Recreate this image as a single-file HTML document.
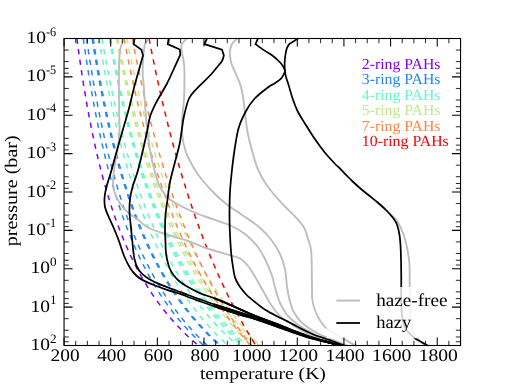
<!DOCTYPE html><html><head><meta charset="utf-8"><style>html,body{margin:0;padding:0;background:#fff}body{width:512px;height:384px;overflow:hidden;position:relative}svg{will-change:transform}text{text-rendering:geometricPrecision}</style></head><body><svg width="512" height="384" viewBox="0 0 512 384" style="position:absolute;left:0;top:0">
<rect width="512" height="384" fill="#fff"/>
<defs><clipPath id="cp"><rect x="64.05" y="38.5" width="396.5" height="307.0"/></clipPath><clipPath id="cp2"><rect x="214" y="280" width="136" height="65"/></clipPath></defs>
<g clip-path="url(#cp)" fill="none" stroke-linejoin="miter" stroke-linecap="butt">
<path d="M76.91,38.50 L77.42,42.44 L77.95,46.39 L78.48,50.33 L79.03,54.27 L79.58,58.22 L80.14,62.16 L80.72,66.10 L81.30,70.04 L81.90,73.99 L82.51,77.93 L83.13,81.87 L83.76,85.82 L84.40,89.76 L85.06,93.70 L85.72,97.65 L86.41,101.59 L87.10,105.53 L87.81,109.47 L88.54,113.42 L89.28,117.36 L90.03,121.30 L90.81,125.25 L91.59,129.19 L92.40,133.13 L93.22,137.08 L94.06,141.02 L94.92,144.96 L95.80,148.91 L96.70,152.85 L97.63,156.79 L98.57,160.73 L99.53,164.68 L100.52,168.62 L101.54,172.56 L102.57,176.51 L103.64,180.45 L104.73,184.39 L105.85,188.34 L107.00,192.28 L108.18,196.22 L109.39,200.16 L110.63,204.11 L111.90,208.05 L113.22,211.99 L114.57,215.94 L115.95,219.88 L117.38,223.82 L118.85,227.77 L120.37,231.71 L121.93,235.65 L123.54,239.59 L125.20,243.54 L126.91,247.48 L128.67,251.42 L130.50,255.37 L132.39,259.31 L134.34,263.25 L136.35,267.20 L138.44,271.14 L140.60,275.08 L142.85,279.03 L145.17,282.97 L147.59,286.91 L150.09,290.85 L152.70,294.80 L155.41,298.74 L158.23,302.68 L161.17,306.63 L164.23,310.57 L167.43,314.51 L170.77,318.46 L174.26,322.40 L177.91,326.34 L181.74,330.28 L185.76,334.23 L189.98,338.17 L194.42,342.11 L199.09,346.06 L204.01,350.00" stroke="#8000ff" stroke-width="1.5" stroke-dasharray="5.33 5.33" stroke-dashoffset="0"/>
<path d="M83.30,38.50 L83.85,42.44 L84.41,46.39 L84.98,50.33 L85.56,54.27 L86.15,58.22 L86.75,62.16 L87.36,66.10 L87.98,70.04 L88.61,73.99 L89.26,77.93 L89.91,81.87 L90.58,85.82 L91.26,89.76 L91.95,93.70 L92.66,97.65 L93.38,101.59 L94.11,105.53 L94.86,109.47 L95.62,113.42 L96.40,117.36 L97.19,121.30 L98.00,125.25 L98.83,129.19 L99.67,133.13 L100.53,137.08 L101.41,141.02 L102.31,144.96 L103.23,148.91 L104.17,152.85 L105.13,156.79 L106.11,160.73 L107.11,164.68 L108.13,168.62 L109.18,172.56 L110.25,176.51 L111.35,180.45 L112.48,184.39 L113.63,188.34 L114.81,192.28 L116.02,196.22 L117.26,200.16 L118.54,204.11 L119.84,208.05 L121.18,211.99 L122.56,215.94 L123.97,219.88 L125.42,223.82 L126.91,227.77 L128.44,231.71 L130.02,235.65 L131.64,239.59 L133.31,243.54 L135.03,247.48 L136.80,251.42 L138.62,255.37 L140.51,259.31 L142.45,263.25 L144.45,267.20 L146.52,271.14 L148.66,275.08 L150.87,279.03 L153.15,282.97 L155.52,286.91 L157.96,290.85 L160.50,294.80 L163.13,298.74 L165.86,302.68 L168.70,306.63 L171.64,310.57 L174.70,314.51 L177.89,318.46 L181.20,322.40 L184.66,326.34 L188.27,330.28 L192.03,334.23 L195.97,338.17 L200.09,342.11 L204.40,346.06 L208.92,350.00" stroke="#2287f5" stroke-width="1.5" stroke-dasharray="5.33 5.33" stroke-dashoffset="0"/>
<path d="M86.57,38.50 L87.14,42.44 L87.72,46.39 L88.31,50.33 L88.91,54.27 L89.52,58.22 L90.13,62.16 L90.76,66.10 L91.40,70.04 L92.05,73.99 L92.72,77.93 L93.39,81.87 L94.08,85.82 L94.78,89.76 L95.49,93.70 L96.22,97.65 L96.96,101.59 L97.71,105.53 L98.48,109.47 L99.26,113.42 L100.06,117.36 L100.87,121.30 L101.70,125.25 L102.55,129.19 L103.42,133.13 L104.30,137.08 L105.20,141.02 L106.12,144.96 L107.06,148.91 L108.01,152.85 L108.99,156.79 L109.99,160.73 L111.02,164.68 L112.06,168.62 L113.13,172.56 L114.23,176.51 L115.35,180.45 L116.49,184.39 L117.67,188.34 L118.87,192.28 L120.10,196.22 L121.36,200.16 L122.65,204.11 L123.98,208.05 L125.34,211.99 L126.73,215.94 L128.16,219.88 L129.63,223.82 L131.14,227.77 L132.68,231.71 L134.28,235.65 L135.91,239.59 L137.60,243.54 L139.33,247.48 L141.11,251.42 L142.94,255.37 L144.84,259.31 L146.78,263.25 L148.79,267.20 L150.87,271.14 L153.01,275.08 L155.21,279.03 L157.50,282.97 L159.86,286.91 L162.30,290.85 L164.82,294.80 L167.44,298.74 L170.15,302.68 L172.96,306.63 L175.87,310.57 L178.90,314.51 L182.04,318.46 L185.31,322.40 L188.71,326.34 L192.26,330.28 L195.95,334.23 L199.80,338.17 L203.82,342.11 L208.03,346.06 L212.43,350.00" stroke="#2287f5" stroke-width="1.5" stroke-dasharray="5.33 5.33" stroke-dashoffset="0"/>
<path d="M92.18,38.50 L92.79,42.44 L93.41,46.39 L94.04,50.33 L94.69,54.27 L95.34,58.22 L96.00,62.16 L96.68,66.10 L97.37,70.04 L98.07,73.99 L98.78,77.93 L99.50,81.87 L100.24,85.82 L100.99,89.76 L101.76,93.70 L102.53,97.65 L103.33,101.59 L104.13,105.53 L104.96,109.47 L105.80,113.42 L106.65,117.36 L107.52,121.30 L108.41,125.25 L109.32,129.19 L110.24,133.13 L111.18,137.08 L112.15,141.02 L113.13,144.96 L114.13,148.91 L115.16,152.85 L116.20,156.79 L117.27,160.73 L118.36,164.68 L119.48,168.62 L120.62,172.56 L121.78,176.51 L122.98,180.45 L124.20,184.39 L125.45,188.34 L126.72,192.28 L128.03,196.22 L129.37,200.16 L130.75,204.11 L132.15,208.05 L133.60,211.99 L135.08,215.94 L136.59,219.88 L138.15,223.82 L139.75,227.77 L141.39,231.71 L143.07,235.65 L144.80,239.59 L146.58,243.54 L148.41,247.48 L150.30,251.42 L152.23,255.37 L154.23,259.31 L156.28,263.25 L158.40,267.20 L160.58,271.14 L162.83,275.08 L165.15,279.03 L167.55,282.97 L170.02,286.91 L172.58,290.85 L175.23,294.80 L177.97,298.74 L180.80,302.68 L183.74,306.63 L186.78,310.57 L189.94,314.51 L193.21,318.46 L196.61,322.40 L200.15,326.34 L203.83,330.28 L207.66,334.23 L211.65,338.17 L215.81,342.11 L220.15,346.06 L224.69,350.00" stroke="#2287f5" stroke-width="1.5" stroke-dasharray="5.33 5.33" stroke-dashoffset="0"/>
<path d="M93.18,38.50 L93.79,42.44 L94.41,46.39 L95.04,50.33 L95.69,54.27 L96.34,58.22 L97.00,62.16 L97.68,66.10 L98.37,70.04 L99.07,73.99 L99.78,77.93 L100.50,81.87 L101.24,85.82 L101.99,89.76 L102.76,93.70 L103.53,97.65 L104.33,101.59 L105.13,105.53 L105.96,109.47 L106.80,113.42 L107.65,117.36 L108.52,121.30 L109.41,125.25 L110.32,129.19 L111.24,133.13 L112.18,137.08 L113.15,141.02 L114.13,144.96 L115.13,148.91 L116.16,152.85 L117.20,156.79 L118.27,160.73 L119.36,164.68 L120.48,168.62 L121.62,172.56 L122.78,176.51 L123.98,180.45 L125.20,184.39 L126.45,188.34 L127.72,192.28 L129.03,196.22 L130.37,200.16 L131.75,204.11 L133.15,208.05 L134.60,211.99 L136.08,215.94 L137.59,219.88 L139.15,223.82 L140.75,227.77 L142.39,231.71 L144.07,235.65 L145.80,239.59 L147.58,243.54 L149.41,247.48 L151.30,251.42 L153.23,255.37 L155.23,259.31 L157.28,263.25 L159.40,267.20 L161.58,271.14 L163.83,275.08 L166.15,279.03 L168.55,282.97 L171.02,286.91 L173.58,290.85 L176.23,294.80 L178.97,298.74 L181.80,302.68 L184.74,306.63 L187.78,310.57 L190.94,314.51 L194.21,318.46 L197.61,322.40 L201.15,326.34 L204.83,330.28 L208.66,334.23 L212.65,338.17 L216.81,342.11 L221.15,346.06 L225.69,350.00" stroke="#2287f5" stroke-width="1.5" stroke-dasharray="5.33 5.33" stroke-dashoffset="0"/>
<path d="M99.02,38.50 L99.66,42.44 L100.32,46.39 L100.99,50.33 L101.66,54.27 L102.35,58.22 L103.05,62.16 L103.76,66.10 L104.49,70.04 L105.22,73.99 L105.97,77.93 L106.73,81.87 L107.50,85.82 L108.29,89.76 L109.09,93.70 L109.91,97.65 L110.74,101.59 L111.59,105.53 L112.45,109.47 L113.32,113.42 L114.22,117.36 L115.13,121.30 L116.05,125.25 L117.00,129.19 L117.96,133.13 L118.95,137.08 L119.95,141.02 L120.97,144.96 L122.01,148.91 L123.08,152.85 L124.16,156.79 L125.27,160.73 L126.40,164.68 L127.56,168.62 L128.74,172.56 L129.94,176.51 L131.18,180.45 L132.44,184.39 L133.73,188.34 L135.04,192.28 L136.39,196.22 L137.77,200.16 L139.18,204.11 L140.63,208.05 L142.11,211.99 L143.62,215.94 L145.17,219.88 L146.77,223.82 L148.40,227.77 L150.07,231.71 L151.79,235.65 L153.55,239.59 L155.36,243.54 L157.22,247.48 L159.13,251.42 L161.09,255.37 L163.11,259.31 L165.18,263.25 L167.31,267.20 L169.51,271.14 L171.77,275.08 L174.11,279.03 L176.51,282.97 L178.98,286.91 L181.54,290.85 L184.18,294.80 L186.90,298.74 L189.72,302.68 L192.63,306.63 L195.64,310.57 L198.75,314.51 L201.98,318.46 L205.32,322.40 L208.79,326.34 L212.39,330.28 L216.13,334.23 L220.01,338.17 L224.04,342.11 L228.24,346.06 L232.62,350.00" stroke="#62fac4" stroke-width="1.5" stroke-dasharray="5.33 5.33" stroke-dashoffset="0"/>
<path d="M101.93,38.50 L102.61,42.44 L103.29,46.39 L103.98,50.33 L104.69,54.27 L105.41,58.22 L106.14,62.16 L106.88,66.10 L107.64,70.04 L108.41,73.99 L109.19,77.93 L109.98,81.87 L110.79,85.82 L111.61,89.76 L112.45,93.70 L113.30,97.65 L114.17,101.59 L115.06,105.53 L115.96,109.47 L116.87,113.42 L117.81,117.36 L118.76,121.30 L119.73,125.25 L120.72,129.19 L121.73,133.13 L122.76,137.08 L123.81,141.02 L124.88,144.96 L125.97,148.91 L127.08,152.85 L128.22,156.79 L129.38,160.73 L130.57,164.68 L131.78,168.62 L133.02,172.56 L134.28,176.51 L135.58,180.45 L136.90,184.39 L138.25,188.34 L139.63,192.28 L141.05,196.22 L142.50,200.16 L143.98,204.11 L145.50,208.05 L147.05,211.99 L148.65,215.94 L150.28,219.88 L151.95,223.82 L153.67,227.77 L155.43,231.71 L157.24,235.65 L159.10,239.59 L161.00,243.54 L162.96,247.48 L164.97,251.42 L167.04,255.37 L169.17,259.31 L171.36,263.25 L173.61,267.20 L175.93,271.14 L178.33,275.08 L180.79,279.03 L183.33,282.97 L185.95,286.91 L188.66,290.85 L191.45,294.80 L194.34,298.74 L197.32,302.68 L200.40,306.63 L203.60,310.57 L206.91,314.51 L210.33,318.46 L213.89,322.40 L217.58,326.34 L221.40,330.28 L225.38,334.23 L229.52,338.17 L233.82,342.11 L238.30,346.06 L242.98,350.00" stroke="#62fac4" stroke-width="1.5" stroke-dasharray="5.33 5.33" stroke-dashoffset="0"/>
<path d="M109.16,38.50 L109.88,42.44 L110.60,46.39 L111.34,50.33 L112.08,54.27 L112.84,58.22 L113.60,62.16 L114.38,66.10 L115.17,70.04 L115.98,73.99 L116.79,77.93 L117.62,81.87 L118.46,85.82 L119.32,89.76 L120.18,93.70 L121.07,97.65 L121.96,101.59 L122.88,105.53 L123.80,109.47 L124.75,113.42 L125.71,117.36 L126.68,121.30 L127.68,125.25 L128.69,129.19 L129.72,133.13 L130.76,137.08 L131.83,141.02 L132.92,144.96 L134.02,148.91 L135.15,152.85 L136.30,156.79 L137.48,160.73 L138.67,164.68 L139.89,168.62 L141.14,172.56 L142.41,176.51 L143.70,180.45 L145.03,184.39 L146.38,188.34 L147.76,192.28 L149.17,196.22 L150.61,200.16 L152.08,204.11 L153.59,208.05 L155.13,211.99 L156.70,215.94 L158.32,219.88 L159.97,223.82 L161.66,227.77 L163.39,231.71 L165.16,235.65 L166.98,239.59 L168.85,243.54 L170.76,247.48 L172.72,251.42 L174.73,255.37 L176.80,259.31 L178.92,263.25 L181.10,267.20 L183.34,271.14 L185.65,275.08 L188.02,279.03 L190.45,282.97 L192.96,286.91 L195.55,290.85 L198.21,294.80 L200.96,298.74 L203.79,302.68 L206.71,306.63 L209.73,310.57 L212.84,314.51 L216.06,318.46 L219.39,322.40 L222.84,326.34 L226.40,330.28 L230.09,334.23 L233.92,338.17 L237.89,342.11 L242.01,346.06 L246.29,350.00" stroke="#62fac4" stroke-width="1.3" stroke-dasharray="5.33 5.33" stroke-dashoffset="0"/>
<path d="M109.86,38.50 L110.57,42.44 L111.29,46.39 L112.02,50.33 L112.76,54.27 L113.51,58.22 L114.28,62.16 L115.05,66.10 L115.84,70.04 L116.65,73.99 L117.46,77.93 L118.29,81.87 L119.14,85.82 L119.99,89.76 L120.87,93.70 L121.75,97.65 L122.66,101.59 L123.57,105.53 L124.51,109.47 L125.46,113.42 L126.43,117.36 L127.42,121.30 L128.42,125.25 L129.44,129.19 L130.48,133.13 L131.54,137.08 L132.63,141.02 L133.73,144.96 L134.85,148.91 L136.00,152.85 L137.17,156.79 L138.36,160.73 L139.57,164.68 L140.81,168.62 L142.08,172.56 L143.37,176.51 L144.69,180.45 L146.03,184.39 L147.41,188.34 L148.81,192.28 L150.25,196.22 L151.72,200.16 L153.22,204.11 L154.75,208.05 L156.32,211.99 L157.93,215.94 L159.57,219.88 L161.26,223.82 L162.98,227.77 L164.74,231.71 L166.55,235.65 L168.41,239.59 L170.31,243.54 L172.25,247.48 L174.25,251.42 L176.31,255.37 L178.41,259.31 L180.57,263.25 L182.79,267.20 L185.08,271.14 L187.42,275.08 L189.84,279.03 L192.32,282.97 L194.88,286.91 L197.51,290.85 L200.22,294.80 L203.01,298.74 L205.89,302.68 L208.86,306.63 L211.93,310.57 L215.10,314.51 L218.37,318.46 L221.75,322.40 L225.25,326.34 L228.87,330.28 L232.61,334.23 L236.50,338.17 L240.52,342.11 L244.70,346.06 L249.04,350.00" stroke="#62fac4" stroke-width="1.3" stroke-dasharray="5.33 5.33" stroke-dashoffset="0"/>
<path d="M110.56,38.50 L111.26,42.44 L111.97,46.39 L112.70,50.33 L113.44,54.27 L114.19,58.22 L114.95,62.16 L115.72,66.10 L116.51,70.04 L117.32,73.99 L118.13,77.93 L118.96,81.87 L119.81,85.82 L120.67,89.76 L121.55,93.70 L122.44,97.65 L123.35,101.59 L124.27,105.53 L125.22,109.47 L126.18,113.42 L127.15,117.36 L128.15,121.30 L129.16,125.25 L130.20,129.19 L131.25,133.13 L132.33,137.08 L133.42,141.02 L134.54,144.96 L135.68,148.91 L136.84,152.85 L138.03,156.79 L139.24,160.73 L140.47,164.68 L141.73,168.62 L143.02,172.56 L144.33,176.51 L145.67,180.45 L147.04,184.39 L148.44,188.34 L149.87,192.28 L151.33,196.22 L152.83,200.16 L154.36,204.11 L155.92,208.05 L157.52,211.99 L159.16,215.94 L160.83,219.88 L162.54,223.82 L164.30,227.77 L166.10,231.71 L167.94,235.65 L169.83,239.59 L171.77,243.54 L173.75,247.48 L175.79,251.42 L177.88,255.37 L180.02,259.31 L182.23,263.25 L184.49,267.20 L186.81,271.14 L189.20,275.08 L191.66,279.03 L194.19,282.97 L196.79,286.91 L199.46,290.85 L202.22,294.80 L205.06,298.74 L207.99,302.68 L211.01,306.63 L214.13,310.57 L217.35,314.51 L220.67,318.46 L224.11,322.40 L227.66,326.34 L231.33,330.28 L235.13,334.23 L239.07,338.17 L243.16,342.11 L247.39,346.06 L251.79,350.00" stroke="#62fac4" stroke-width="1.3" stroke-dasharray="5.33 5.33" stroke-dashoffset="0"/>
<path d="M116.38,38.50 L117.12,42.44 L117.87,46.39 L118.63,50.33 L119.41,54.27 L120.19,58.22 L120.99,62.16 L121.80,66.10 L122.62,70.04 L123.45,73.99 L124.30,77.93 L125.16,81.87 L126.04,85.82 L126.93,89.76 L127.83,93.70 L128.75,97.65 L129.69,101.59 L130.64,105.53 L131.61,109.47 L132.59,113.42 L133.59,117.36 L134.61,121.30 L135.65,125.25 L136.71,129.19 L137.78,133.13 L138.88,137.08 L139.99,141.02 L141.13,144.96 L142.28,148.91 L143.46,152.85 L144.66,156.79 L145.89,160.73 L147.14,164.68 L148.41,168.62 L149.71,172.56 L151.03,176.51 L152.38,180.45 L153.76,184.39 L155.16,188.34 L156.60,192.28 L158.07,196.22 L159.56,200.16 L161.09,204.11 L162.66,208.05 L164.26,211.99 L165.89,215.94 L167.56,219.88 L169.27,223.82 L171.01,227.77 L172.80,231.71 L174.63,235.65 L176.51,239.59 L178.43,243.54 L180.39,247.48 L182.41,251.42 L184.47,255.37 L186.59,259.31 L188.76,263.25 L190.99,267.20 L193.28,271.14 L195.63,275.08 L198.04,279.03 L200.52,282.97 L203.07,286.91 L205.69,290.85 L208.38,294.80 L211.15,298.74 L214.01,302.68 L216.95,306.63 L219.98,310.57 L223.10,314.51 L226.32,318.46 L229.65,322.40 L233.08,326.34 L236.62,330.28 L240.29,334.23 L244.07,338.17 L247.99,342.11 L252.05,346.06 L256.25,350.00" stroke="#c3e98b" stroke-width="1.35" stroke-dasharray="5.33 5.33" stroke-dashoffset="0"/>
<path d="M117.17,38.50 L117.92,42.44 L118.68,46.39 L119.45,50.33 L120.24,54.27 L121.03,58.22 L121.84,62.16 L122.66,66.10 L123.50,70.04 L124.34,73.99 L125.20,77.93 L126.08,81.87 L126.97,85.82 L127.87,89.76 L128.79,93.70 L129.73,97.65 L130.68,101.59 L131.64,105.53 L132.63,109.47 L133.63,113.42 L134.65,117.36 L135.68,121.30 L136.74,125.25 L137.81,129.19 L138.90,133.13 L140.02,137.08 L141.15,141.02 L142.31,144.96 L143.48,148.91 L144.68,152.85 L145.91,156.79 L147.15,160.73 L148.42,164.68 L149.72,168.62 L151.04,172.56 L152.39,176.51 L153.77,180.45 L155.17,184.39 L156.60,188.34 L158.07,192.28 L159.56,196.22 L161.09,200.16 L162.65,204.11 L164.24,208.05 L165.87,211.99 L167.54,215.94 L169.25,219.88 L170.99,223.82 L172.77,227.77 L174.60,231.71 L176.47,235.65 L178.39,239.59 L180.35,243.54 L182.36,247.48 L184.42,251.42 L186.53,255.37 L188.70,259.31 L190.92,263.25 L193.20,267.20 L195.55,271.14 L197.95,275.08 L200.43,279.03 L202.97,282.97 L205.58,286.91 L208.27,290.85 L211.03,294.80 L213.88,298.74 L216.81,302.68 L219.83,306.63 L222.94,310.57 L226.15,314.51 L229.47,318.46 L232.89,322.40 L236.42,326.34 L240.07,330.28 L243.84,334.23 L247.74,338.17 L251.78,342.11 L255.97,346.06 L260.31,350.00" stroke="#c3e98b" stroke-width="1.35" stroke-dasharray="5.33 5.33" stroke-dashoffset="0"/>
<path d="M117.97,38.50 L118.73,42.44 L119.50,46.39 L120.28,50.33 L121.08,54.27 L121.89,58.22 L122.71,62.16 L123.54,66.10 L124.39,70.04 L125.25,73.99 L126.12,77.93 L127.01,81.87 L127.91,85.82 L128.83,89.76 L129.77,93.70 L130.72,97.65 L131.68,101.59 L132.67,105.53 L133.67,109.47 L134.68,113.42 L135.72,117.36 L136.77,121.30 L137.85,125.25 L138.94,129.19 L140.05,133.13 L141.18,137.08 L142.34,141.02 L143.51,144.96 L144.71,148.91 L145.93,152.85 L147.18,156.79 L148.45,160.73 L149.74,164.68 L151.06,168.62 L152.41,172.56 L153.78,176.51 L155.19,180.45 L156.62,184.39 L158.08,188.34 L159.57,192.28 L161.10,196.22 L162.66,200.16 L164.25,204.11 L165.88,208.05 L167.54,211.99 L169.25,215.94 L170.99,219.88 L172.77,223.82 L174.59,227.77 L176.46,231.71 L178.37,235.65 L180.33,239.59 L182.34,243.54 L184.40,247.48 L186.51,251.42 L188.67,255.37 L190.89,259.31 L193.17,263.25 L195.50,267.20 L197.91,271.14 L200.37,275.08 L202.91,279.03 L205.52,282.97 L208.20,286.91 L210.96,290.85 L213.80,294.80 L216.72,298.74 L219.74,302.68 L222.84,306.63 L226.05,310.57 L229.35,314.51 L232.76,318.46 L236.28,322.40 L239.92,326.34 L243.69,330.28 L247.58,334.23 L251.61,338.17 L255.78,342.11 L260.11,346.06 L264.59,350.00" stroke="#c3e98b" stroke-width="1.35" stroke-dasharray="5.33 5.33" stroke-dashoffset="0"/>
<path d="M126.75,38.50 L127.53,42.44 L128.31,46.39 L129.11,50.33 L129.92,54.27 L130.74,58.22 L131.57,62.16 L132.42,66.10 L133.28,70.04 L134.15,73.99 L135.03,77.93 L135.93,81.87 L136.84,85.82 L137.77,89.76 L138.71,93.70 L139.66,97.65 L140.63,101.59 L141.62,105.53 L142.62,109.47 L143.64,113.42 L144.67,117.36 L145.72,121.30 L146.79,125.25 L147.88,129.19 L148.98,133.13 L150.11,137.08 L151.25,141.02 L152.42,144.96 L153.60,148.91 L154.81,152.85 L156.03,156.79 L157.28,160.73 L158.56,164.68 L159.85,168.62 L161.17,172.56 L162.51,176.51 L163.88,180.45 L165.28,184.39 L166.70,188.34 L168.15,192.28 L169.63,196.22 L171.14,200.16 L172.68,204.11 L174.24,208.05 L175.85,211.99 L177.48,215.94 L179.15,219.88 L180.85,223.82 L182.59,227.77 L184.37,231.71 L186.19,235.65 L188.04,239.59 L189.94,243.54 L191.88,247.48 L193.86,251.42 L195.89,255.37 L197.97,259.31 L200.10,263.25 L202.28,267.20 L204.51,271.14 L206.79,275.08 L209.13,279.03 L211.53,282.97 L213.99,286.91 L216.51,290.85 L219.10,294.80 L221.76,298.74 L224.49,302.68 L227.29,306.63 L230.17,310.57 L233.13,314.51 L236.17,318.46 L239.30,322.40 L242.53,326.34 L245.84,330.28 L249.26,334.23 L252.78,338.17 L256.41,342.11 L260.15,346.06 L264.01,350.00" stroke="#c3e98b" stroke-width="1.5" stroke-dasharray="5.33 5.33" stroke-dashoffset="0"/>
<path d="M124.02,38.50 L124.77,42.44 L125.53,46.39 L126.30,50.33 L127.08,54.27 L127.87,58.22 L128.67,62.16 L129.48,66.10 L130.31,70.04 L131.15,73.99 L132.00,77.93 L132.87,81.87 L133.74,85.82 L134.63,89.76 L135.54,93.70 L136.46,97.65 L137.39,101.59 L138.34,105.53 L139.30,109.47 L140.28,113.42 L141.28,117.36 L142.29,121.30 L143.32,125.25 L144.36,129.19 L145.42,133.13 L146.50,137.08 L147.60,141.02 L148.72,144.96 L149.86,148.91 L151.01,152.85 L152.19,156.79 L153.39,160.73 L154.61,164.68 L155.85,168.62 L157.11,172.56 L158.40,176.51 L159.71,180.45 L161.05,184.39 L162.41,188.34 L163.80,192.28 L165.21,196.22 L166.66,200.16 L168.13,204.11 L169.63,208.05 L171.16,211.99 L172.72,215.94 L174.31,219.88 L175.94,223.82 L177.60,227.77 L179.30,231.71 L181.03,235.65 L182.80,239.59 L184.61,243.54 L186.46,247.48 L188.35,251.42 L190.28,255.37 L192.26,259.31 L194.28,263.25 L196.35,267.20 L198.47,271.14 L200.64,275.08 L202.86,279.03 L205.14,282.97 L207.47,286.91 L209.87,290.85 L212.32,294.80 L214.84,298.74 L217.42,302.68 L220.08,306.63 L222.80,310.57 L225.60,314.51 L228.47,318.46 L231.43,322.40 L234.47,326.34 L237.60,330.28 L240.82,334.23 L244.13,338.17 L247.55,342.11 L251.07,346.06 L254.70,350.00" stroke="#ff8545" stroke-width="1.5" stroke-dasharray="5.33 5.33" stroke-dashoffset="0"/>
<path d="M132.24,38.50 L132.99,42.44 L133.76,46.39 L134.53,50.33 L135.32,54.27 L136.12,58.22 L136.92,62.16 L137.74,66.10 L138.57,70.04 L139.41,73.99 L140.27,77.93 L141.13,81.87 L142.01,85.82 L142.90,89.76 L143.80,93.70 L144.72,97.65 L145.65,101.59 L146.59,105.53 L147.55,109.47 L148.52,113.42 L149.50,117.36 L150.50,121.30 L151.52,125.25 L152.55,129.19 L153.60,133.13 L154.66,137.08 L155.74,141.02 L156.84,144.96 L157.96,148.91 L159.09,152.85 L160.24,156.79 L161.42,160.73 L162.61,164.68 L163.82,168.62 L165.05,172.56 L166.30,176.51 L167.57,180.45 L168.87,184.39 L170.19,188.34 L171.53,192.28 L172.89,196.22 L174.28,200.16 L175.69,204.11 L177.13,208.05 L178.60,211.99 L180.09,215.94 L181.62,219.88 L183.17,223.82 L184.75,227.77 L186.36,231.71 L188.00,235.65 L189.67,239.59 L191.38,243.54 L193.12,247.48 L194.90,251.42 L196.71,255.37 L198.56,259.31 L200.45,263.25 L202.38,267.20 L204.35,271.14 L206.36,275.08 L208.42,279.03 L210.52,282.97 L212.67,286.91 L214.87,290.85 L217.11,294.80 L219.41,298.74 L221.76,302.68 L224.17,306.63 L226.64,310.57 L229.16,314.51 L231.75,318.46 L234.40,322.40 L237.12,326.34 L239.90,330.28 L242.76,334.23 L245.69,338.17 L248.70,342.11 L251.79,346.06 L254.96,350.00" stroke="#ff8545" stroke-width="1.5" stroke-dasharray="5.33 5.33" stroke-dashoffset="0"/>
<path d="M149.04,38.50 L149.80,42.44 L150.57,46.39 L151.35,50.33 L152.14,54.27 L152.94,58.22 L153.74,62.16 L154.56,66.10 L155.39,70.04 L156.22,73.99 L157.07,77.93 L157.93,81.87 L158.79,85.82 L159.67,89.76 L160.56,93.70 L161.46,97.65 L162.38,101.59 L163.30,105.53 L164.23,109.47 L165.18,113.42 L166.14,117.36 L167.12,121.30 L168.10,125.25 L169.10,129.19 L170.11,133.13 L171.14,137.08 L172.18,141.02 L173.23,144.96 L174.30,148.91 L175.38,152.85 L176.48,156.79 L177.59,160.73 L178.72,164.68 L179.87,168.62 L181.03,172.56 L182.21,176.51 L183.40,180.45 L184.62,184.39 L185.85,188.34 L187.10,192.28 L188.36,196.22 L189.65,200.16 L190.96,204.11 L192.28,208.05 L193.63,211.99 L195.00,215.94 L196.39,219.88 L197.80,223.82 L199.23,227.77 L200.69,231.71 L202.17,235.65 L203.67,239.59 L205.20,243.54 L206.75,247.48 L208.33,251.42 L209.94,255.37 L211.58,259.31 L213.24,263.25 L214.93,267.20 L216.65,271.14 L218.40,275.08 L220.18,279.03 L222.00,282.97 L223.84,286.91 L225.72,290.85 L227.64,294.80 L229.59,298.74 L231.57,302.68 L233.60,306.63 L235.66,310.57 L237.76,314.51 L239.91,318.46 L242.09,322.40 L244.32,326.34 L246.60,330.28 L248.92,334.23 L251.28,338.17 L253.70,342.11 L256.17,346.06 L258.69,350.00" stroke="#ff0000" stroke-width="1.5" stroke-dasharray="5.33 5.33" stroke-dashoffset="0"/>
<path d="M125.00,36.00 C124.79,36.42 124.58,36.00 123.75,38.50 C122.92,41.00 120.79,46.42 120.00,51.00 C119.21,55.58 119.17,58.08 119.00,66.00 C118.83,73.92 118.92,87.50 119.00,98.50 C119.08,109.50 119.58,124.75 119.50,132.00 C119.42,139.25 119.00,138.17 118.50,142.00 C118.00,145.83 117.25,150.25 116.50,155.00 C115.75,159.75 114.58,165.83 114.00,170.50 C113.42,175.17 112.88,179.25 113.00,183.00 C113.12,186.75 113.62,189.67 114.75,193.00 C115.88,196.33 117.46,199.67 119.75,203.00 C122.04,206.33 125.79,210.50 128.50,213.00 C131.21,215.50 132.62,215.50 136.00,218.00 C139.38,220.50 143.08,225.08 148.75,228.00 C154.42,230.92 163.46,233.33 170.00,235.50 C176.54,237.67 182.17,238.96 188.00,241.00 C193.83,243.04 198.00,245.38 205.00,247.75 C212.00,250.12 224.17,253.46 230.00,255.25 C235.83,257.04 236.92,256.62 240.00,258.50 C243.08,260.38 246.07,263.58 248.50,266.50 C250.93,269.42 252.64,272.75 254.60,276.00 C256.56,279.25 258.48,282.88 260.25,286.00 C262.02,289.12 263.58,291.83 265.25,294.75 C266.92,297.67 268.38,300.58 270.25,303.50 C272.12,306.42 274.42,309.75 276.50,312.25 C278.58,314.75 281.00,316.96 282.75,318.50 C284.50,320.04 285.21,320.33 287.00,321.50 C288.79,322.67 289.28,323.08 293.50,325.50 C297.72,327.92 306.05,333.17 312.30,336.00 C318.55,338.83 326.05,340.92 331.00,342.50 C335.95,344.08 340.17,345.00 342.00,345.50" stroke="#bebebe" stroke-width="1.9" stroke-linejoin="round"/>
<path d="M150.30,36.00 L144.90,44.10 C144.75,45.04 144.32,46.93 144.00,49.75 C143.68,52.57 143.21,56.79 143.00,61.00 C142.79,65.21 142.62,70.83 142.75,75.00 C142.88,79.17 143.29,80.00 143.75,86.00 C144.21,92.00 144.88,103.33 145.50,111.00 C146.12,118.67 146.54,124.33 147.50,132.00 C148.46,139.67 150.00,150.33 151.25,157.00 C152.50,163.67 153.54,167.00 155.00,172.00 C156.46,177.00 157.50,182.42 160.00,187.00 C162.50,191.58 165.33,195.75 170.00,199.50 C174.67,203.25 182.17,206.67 188.00,209.50 C193.83,212.33 198.00,213.88 205.00,216.50 C212.00,219.12 223.33,222.33 230.00,225.25 C236.67,228.17 240.42,230.46 245.00,234.00 C249.58,237.54 254.17,242.33 257.50,246.50 C260.83,250.67 262.57,254.08 265.00,259.00 C267.43,263.92 270.60,271.92 272.10,276.00 C273.60,280.08 273.17,280.38 274.00,283.50 C274.83,286.62 276.06,291.42 277.10,294.75 C278.14,298.08 278.89,300.58 280.25,303.50 C281.61,306.42 283.96,310.17 285.25,312.25 C286.54,314.33 286.31,314.26 288.00,316.00 C289.69,317.74 292.30,320.33 295.40,322.70 C298.50,325.07 302.23,327.70 306.60,330.20 C310.97,332.70 315.20,335.15 321.60,337.70 C328.00,340.25 341.10,344.20 345.00,345.50" stroke="#bebebe" stroke-width="1.9" stroke-linejoin="round"/>
<path d="M189.00,36.00 L181.75,43.80 C181.71,44.79 181.19,46.88 181.50,49.75 C181.81,52.62 183.10,57.29 183.60,61.00 C184.10,64.71 184.43,65.75 184.50,72.00 C184.57,78.25 184.42,90.33 184.00,98.50 C183.58,106.67 182.33,115.42 182.00,121.00 C181.67,126.58 181.71,128.08 182.00,132.00 C182.29,135.92 182.75,140.33 183.75,144.50 C184.75,148.67 185.62,152.00 188.00,157.00 C190.38,162.00 193.83,168.67 198.00,174.50 C202.17,180.33 208.29,187.08 213.00,192.00 C217.71,196.92 221.33,200.12 226.25,204.00 C231.17,207.88 236.88,211.29 242.50,215.25 C248.12,219.21 255.00,223.38 260.00,227.75 C265.00,232.12 269.17,237.12 272.50,241.50 C275.83,245.88 277.92,249.42 280.00,254.00 C282.08,258.58 283.83,263.58 285.00,269.00 C286.17,274.42 286.20,281.17 287.00,286.50 C287.80,291.83 288.72,296.83 289.80,301.00 C290.88,305.17 291.63,308.03 293.50,311.50 C295.37,314.97 297.87,318.68 301.00,321.80 C304.13,324.92 307.92,327.55 312.30,330.20 C316.68,332.85 321.52,335.15 327.30,337.70 C333.08,340.25 343.72,344.20 347.00,345.50" stroke="#bebebe" stroke-width="1.9" stroke-linejoin="round"/>
<path d="M239.30,36.00 L232.00,43.80 C231.68,44.79 230.45,47.92 230.10,49.75 C229.75,51.58 229.68,52.46 229.90,54.75 C230.12,57.04 230.43,60.38 231.40,63.50 C232.38,66.62 234.30,70.08 235.75,73.50 C237.20,76.92 238.89,80.25 240.10,84.00 C241.31,87.75 242.22,91.50 243.00,96.00 C243.78,100.50 244.00,105.00 244.75,111.00 C245.50,117.00 246.33,125.58 247.50,132.00 C248.67,138.42 250.00,143.25 251.75,149.50 C253.50,155.75 255.29,163.25 258.00,169.50 C260.71,175.75 263.83,181.17 268.00,187.00 C272.17,192.83 278.42,199.50 283.00,204.50 C287.58,209.50 291.96,213.08 295.50,217.00 C299.04,220.92 302.17,224.33 304.25,228.00 C306.33,231.67 306.83,235.00 308.00,239.00 C309.17,243.00 310.58,244.00 311.25,252.00 C311.92,260.00 311.82,279.12 312.00,287.00 C312.18,294.88 311.78,295.33 312.30,299.25 C312.82,303.17 313.85,307.06 315.10,310.50 C316.35,313.94 317.92,316.93 319.80,319.90 C321.68,322.87 323.28,325.65 326.40,328.30 C329.52,330.95 334.60,333.45 338.50,335.80 C342.40,338.15 346.88,340.78 349.80,342.40 C352.72,344.02 354.97,344.98 356.00,345.50" stroke="#bebebe" stroke-width="1.9" stroke-linejoin="round"/>
<path d="M377.70,202.50 C379.08,203.75 383.70,207.88 386.00,210.00 C388.30,212.12 389.58,213.28 391.50,215.20 C393.42,217.12 395.46,218.20 397.50,221.50 C399.54,224.80 402.08,230.25 403.75,235.00 C405.42,239.75 406.54,245.00 407.50,250.00 C408.46,255.00 409.13,258.83 409.50,265.00 C409.87,271.17 409.62,278.75 409.70,287.00 C409.78,295.25 409.53,307.42 410.00,314.50 C410.47,321.58 411.25,325.54 412.50,329.50 C413.75,333.46 415.42,335.58 417.50,338.25 C419.58,340.92 423.75,344.29 425.00,345.50" stroke="#bebebe" stroke-width="1.9" stroke-linejoin="round"/>
<path d="M135.00,36.00 L133.60,44.10 L141.50,49.75 L143.00,55.40 C142.22,58.21 139.85,66.65 138.30,72.25 C136.75,77.85 135.23,83.04 133.70,89.00 C132.17,94.96 131.02,100.83 129.10,108.00 C127.18,115.17 124.48,124.00 122.20,132.00 C119.92,140.00 117.27,149.33 115.40,156.00 C113.53,162.67 112.48,166.83 111.00,172.00 C109.52,177.17 107.57,182.83 106.50,187.00 C105.43,191.17 104.85,193.67 104.60,197.00 C104.35,200.33 104.31,203.67 105.00,207.00 C105.69,210.33 107.29,213.50 108.75,217.00 C110.21,220.50 112.08,224.08 113.75,228.00 C115.42,231.92 117.04,235.88 118.75,240.50 C120.46,245.12 122.08,251.12 124.00,255.75 C125.92,260.38 128.17,264.92 130.25,268.25 C132.33,271.58 134.42,273.77 136.50,275.75 C138.58,277.73 139.62,278.48 142.75,280.10 C145.88,281.73 151.08,283.83 155.25,285.50 C159.42,287.17 163.58,288.70 167.75,290.10 C171.92,291.50 176.88,292.75 180.25,293.90 C183.62,295.05 184.62,295.73 188.00,297.00 C191.38,298.27 196.33,300.02 200.50,301.50 C204.67,302.98 208.83,304.48 213.00,305.90 C217.17,307.32 221.33,308.65 225.50,310.00 C229.67,311.35 233.58,312.67 238.00,314.00 C242.42,315.33 249.00,317.13 252.00,318.00 C255.00,318.87 252.21,317.92 256.00,319.20 C259.79,320.48 268.50,323.50 274.75,325.70 C281.00,327.90 287.24,330.27 293.50,332.40 C299.76,334.53 306.05,336.73 312.30,338.50 C318.55,340.27 326.38,341.83 331.00,343.00 C335.62,344.17 338.50,345.08 340.00,345.50" stroke="#000" stroke-width="1.75" stroke-linejoin="miter"/>
<path d="M169.00,36.00 L167.75,44.10 L179.90,49.50 L180.25,54.75 C179.21,57.04 176.25,63.62 174.00,68.50 C171.75,73.38 169.67,78.42 166.75,84.00 C163.83,89.58 159.25,96.67 156.50,102.00 C153.75,107.33 151.83,111.00 150.25,116.00 C148.67,121.00 148.29,126.00 147.00,132.00 C145.71,138.00 144.08,145.33 142.50,152.00 C140.92,158.67 139.17,166.17 137.50,172.00 C135.83,177.83 133.75,182.42 132.50,187.00 C131.25,191.58 130.50,195.33 130.00,199.50 C129.50,203.67 129.33,207.25 129.50,212.00 C129.67,216.75 130.50,222.83 131.00,228.00 C131.50,233.17 132.10,239.00 132.50,243.00 C132.90,247.00 133.05,249.25 133.40,252.00 C133.75,254.75 133.98,257.00 134.60,259.50 C135.22,262.00 135.95,264.71 137.10,267.00 C138.25,269.29 139.52,271.27 141.50,273.25 C143.48,275.23 146.08,277.12 149.00,278.90 C151.92,280.67 155.25,282.23 159.00,283.90 C162.75,285.57 167.96,287.55 171.50,288.90 C175.04,290.25 177.50,290.98 180.25,292.00 C183.00,293.02 184.62,293.73 188.00,295.00 C191.38,296.27 196.33,298.10 200.50,299.60 C204.67,301.10 208.83,302.60 213.00,304.00 C217.17,305.40 221.33,306.65 225.50,308.00 C229.67,309.35 233.58,310.68 238.00,312.10 C242.42,313.52 249.00,315.55 252.00,316.50 C255.00,317.45 252.21,316.47 256.00,317.80 C259.79,319.13 268.50,322.20 274.75,324.50 C281.00,326.80 287.24,329.35 293.50,331.60 C299.76,333.85 306.05,336.12 312.30,338.00 C318.55,339.88 326.38,341.65 331.00,342.90 C335.62,344.15 338.50,345.07 340.00,345.50" stroke="#000" stroke-width="1.75" stroke-linejoin="miter"/>
<path d="M208.10,36.00 L204.50,44.10 L222.00,49.75 L223.90,55.40 C223.58,56.33 223.15,59.02 222.00,61.00 C220.85,62.98 218.88,64.96 217.00,67.25 C215.12,69.54 213.35,71.96 210.75,74.75 C208.15,77.54 203.78,81.62 201.40,84.00 C199.03,86.38 198.57,86.58 196.50,89.00 C194.43,91.42 191.08,94.00 189.00,98.50 C186.92,103.00 185.25,110.42 184.00,116.00 C182.75,121.58 182.25,127.25 181.50,132.00 C180.75,136.75 180.58,139.50 179.50,144.50 C178.42,149.50 176.58,155.75 175.00,162.00 C173.42,168.25 171.25,175.75 170.00,182.00 C168.75,188.25 168.25,194.00 167.50,199.50 C166.75,205.00 165.92,210.25 165.50,215.00 C165.08,219.75 165.00,223.33 165.00,228.00 C165.00,232.67 165.35,239.00 165.50,243.00 C165.65,247.00 165.63,249.25 165.90,252.00 C166.17,254.75 166.48,256.79 167.10,259.50 C167.72,262.21 168.45,265.54 169.60,268.25 C170.75,270.96 172.22,273.46 174.00,275.75 C175.78,278.04 177.92,280.12 180.25,282.00 C182.58,283.88 184.62,285.10 188.00,287.00 C191.38,288.90 196.33,291.61 200.50,293.40 C204.67,295.19 208.83,296.19 213.00,297.75 C217.17,299.31 221.33,300.98 225.50,302.75 C229.67,304.52 233.58,306.42 238.00,308.40 C242.42,310.38 249.00,313.30 252.00,314.60 C255.00,315.90 252.21,314.75 256.00,316.20 C259.79,317.65 268.50,320.88 274.75,323.30 C281.00,325.72 287.24,328.33 293.50,330.70 C299.76,333.07 306.05,335.48 312.30,337.50 C318.55,339.52 326.38,341.47 331.00,342.80 C335.62,344.13 338.50,345.05 340.00,345.50" stroke="#000" stroke-width="1.75" stroke-linejoin="miter"/>
<path d="M259.10,36.00 L255.50,44.10 C256.96,45.15 261.33,48.42 264.25,50.40 C267.17,52.38 270.39,54.02 273.00,56.00 C275.61,57.98 278.13,60.38 279.90,62.25 C281.67,64.12 282.77,65.79 283.60,67.25 C284.43,68.71 284.90,69.75 284.90,71.00 C284.90,72.25 284.33,73.40 283.60,74.75 C282.87,76.10 282.17,77.56 280.50,79.10 C278.83,80.64 275.60,82.68 273.60,84.00 C271.60,85.32 271.64,84.58 268.50,87.00 C265.36,89.42 258.50,94.50 254.75,98.50 C251.00,102.50 248.71,106.00 246.00,111.00 C243.29,116.00 240.46,121.67 238.50,128.50 C236.54,135.33 235.38,144.75 234.25,152.00 C233.12,159.25 232.46,165.33 231.75,172.00 C231.04,178.67 230.38,185.33 230.00,192.00 C229.62,198.67 229.54,205.83 229.50,212.00 C229.46,218.17 229.46,222.00 229.75,229.00 C230.04,236.00 230.62,247.17 231.25,254.00 C231.88,260.83 232.94,266.33 233.50,270.00 C234.06,273.67 234.10,274.17 234.60,276.00 C235.10,277.83 235.56,279.12 236.50,281.00 C237.44,282.88 238.58,284.96 240.25,287.25 C241.92,289.54 244.00,292.25 246.50,294.75 C249.00,297.25 252.12,299.75 255.25,302.25 C258.38,304.75 261.71,307.46 265.25,309.75 C268.79,312.04 272.71,314.02 276.50,316.00 C280.29,317.98 285.17,320.17 288.00,321.60 C290.83,323.03 289.45,322.53 293.50,324.60 C297.55,326.67 306.05,331.35 312.30,334.00 C318.55,336.65 325.68,338.58 331.00,340.50 C336.32,342.42 342.00,344.67 344.20,345.50" stroke="#000" stroke-width="1.75" stroke-linejoin="miter"/>
<path d="M301.90,36.00 L289.25,44.10 C288.83,44.83 287.42,46.52 286.75,48.50 C286.08,50.48 285.61,53.50 285.25,56.00 C284.89,58.50 284.66,61.00 284.60,63.50 C284.54,66.00 284.65,68.71 284.90,71.00 C285.15,73.29 285.53,75.08 286.10,77.25 C286.67,79.42 287.19,80.38 288.30,84.00 C289.41,87.62 291.18,94.42 292.75,99.00 C294.32,103.58 295.67,107.33 297.75,111.50 C299.83,115.67 302.54,119.62 305.25,124.00 C307.96,128.38 310.88,133.17 314.00,137.75 C317.12,142.33 320.67,147.33 324.00,151.50 C327.33,155.67 331.33,159.88 334.00,162.75 C336.67,165.62 338.00,166.69 340.00,168.70 C342.00,170.71 343.88,172.67 346.00,174.80 C348.12,176.93 350.20,179.13 352.70,181.50 C355.20,183.87 358.23,186.62 361.00,189.00 C363.77,191.38 366.52,193.55 369.30,195.80 C372.08,198.05 374.92,200.13 377.70,202.50 C380.48,204.87 383.50,207.50 386.00,210.00 C388.50,212.50 390.90,215.17 392.70,217.50 C394.50,219.83 395.67,221.08 396.80,224.00 C397.93,226.92 398.84,230.67 399.50,235.00 C400.16,239.33 400.46,243.17 400.75,250.00 C401.04,256.83 401.17,267.33 401.25,276.00 C401.33,284.67 401.04,294.75 401.25,302.00 C401.46,309.25 401.67,314.92 402.50,319.50 C403.33,324.08 404.45,326.58 406.25,329.50 C408.05,332.42 410.93,335.00 413.30,337.00 C415.68,339.00 418.27,340.17 420.50,341.50 C422.73,342.83 425.37,344.22 426.70,345.00 C428.03,345.78 428.20,346.00 428.50,346.20" stroke="#000" stroke-width="1.75" stroke-linejoin="miter"/>
<g clip-path="url(#cp2)">
<path d="M135.00,36.00 L133.60,44.10 L141.50,49.75 L143.00,55.40 C142.22,58.21 139.85,66.65 138.30,72.25 C136.75,77.85 135.23,83.04 133.70,89.00 C132.17,94.96 131.02,100.83 129.10,108.00 C127.18,115.17 124.48,124.00 122.20,132.00 C119.92,140.00 117.27,149.33 115.40,156.00 C113.53,162.67 112.48,166.83 111.00,172.00 C109.52,177.17 107.57,182.83 106.50,187.00 C105.43,191.17 104.85,193.67 104.60,197.00 C104.35,200.33 104.31,203.67 105.00,207.00 C105.69,210.33 107.29,213.50 108.75,217.00 C110.21,220.50 112.08,224.08 113.75,228.00 C115.42,231.92 117.04,235.88 118.75,240.50 C120.46,245.12 122.08,251.12 124.00,255.75 C125.92,260.38 128.17,264.92 130.25,268.25 C132.33,271.58 134.42,273.77 136.50,275.75 C138.58,277.73 139.62,278.48 142.75,280.10 C145.88,281.73 151.08,283.83 155.25,285.50 C159.42,287.17 163.58,288.70 167.75,290.10 C171.92,291.50 176.88,292.75 180.25,293.90 C183.62,295.05 184.62,295.73 188.00,297.00 C191.38,298.27 196.33,300.02 200.50,301.50 C204.67,302.98 208.83,304.48 213.00,305.90 C217.17,307.32 221.33,308.65 225.50,310.00 C229.67,311.35 233.58,312.67 238.00,314.00 C242.42,315.33 249.00,317.13 252.00,318.00 C255.00,318.87 252.21,317.92 256.00,319.20 C259.79,320.48 268.50,323.50 274.75,325.70 C281.00,327.90 287.24,330.27 293.50,332.40 C299.76,334.53 306.05,336.73 312.30,338.50 C318.55,340.27 326.38,341.83 331.00,343.00 C335.62,344.17 338.50,345.08 340.00,345.50" stroke="#000" stroke-width="2.1"/>
<path d="M169.00,36.00 L167.75,44.10 L179.90,49.50 L180.25,54.75 C179.21,57.04 176.25,63.62 174.00,68.50 C171.75,73.38 169.67,78.42 166.75,84.00 C163.83,89.58 159.25,96.67 156.50,102.00 C153.75,107.33 151.83,111.00 150.25,116.00 C148.67,121.00 148.29,126.00 147.00,132.00 C145.71,138.00 144.08,145.33 142.50,152.00 C140.92,158.67 139.17,166.17 137.50,172.00 C135.83,177.83 133.75,182.42 132.50,187.00 C131.25,191.58 130.50,195.33 130.00,199.50 C129.50,203.67 129.33,207.25 129.50,212.00 C129.67,216.75 130.50,222.83 131.00,228.00 C131.50,233.17 132.10,239.00 132.50,243.00 C132.90,247.00 133.05,249.25 133.40,252.00 C133.75,254.75 133.98,257.00 134.60,259.50 C135.22,262.00 135.95,264.71 137.10,267.00 C138.25,269.29 139.52,271.27 141.50,273.25 C143.48,275.23 146.08,277.12 149.00,278.90 C151.92,280.67 155.25,282.23 159.00,283.90 C162.75,285.57 167.96,287.55 171.50,288.90 C175.04,290.25 177.50,290.98 180.25,292.00 C183.00,293.02 184.62,293.73 188.00,295.00 C191.38,296.27 196.33,298.10 200.50,299.60 C204.67,301.10 208.83,302.60 213.00,304.00 C217.17,305.40 221.33,306.65 225.50,308.00 C229.67,309.35 233.58,310.68 238.00,312.10 C242.42,313.52 249.00,315.55 252.00,316.50 C255.00,317.45 252.21,316.47 256.00,317.80 C259.79,319.13 268.50,322.20 274.75,324.50 C281.00,326.80 287.24,329.35 293.50,331.60 C299.76,333.85 306.05,336.12 312.30,338.00 C318.55,339.88 326.38,341.65 331.00,342.90 C335.62,344.15 338.50,345.07 340.00,345.50" stroke="#000" stroke-width="2.1"/>
<path d="M208.10,36.00 L204.50,44.10 L222.00,49.75 L223.90,55.40 C223.58,56.33 223.15,59.02 222.00,61.00 C220.85,62.98 218.88,64.96 217.00,67.25 C215.12,69.54 213.35,71.96 210.75,74.75 C208.15,77.54 203.78,81.62 201.40,84.00 C199.03,86.38 198.57,86.58 196.50,89.00 C194.43,91.42 191.08,94.00 189.00,98.50 C186.92,103.00 185.25,110.42 184.00,116.00 C182.75,121.58 182.25,127.25 181.50,132.00 C180.75,136.75 180.58,139.50 179.50,144.50 C178.42,149.50 176.58,155.75 175.00,162.00 C173.42,168.25 171.25,175.75 170.00,182.00 C168.75,188.25 168.25,194.00 167.50,199.50 C166.75,205.00 165.92,210.25 165.50,215.00 C165.08,219.75 165.00,223.33 165.00,228.00 C165.00,232.67 165.35,239.00 165.50,243.00 C165.65,247.00 165.63,249.25 165.90,252.00 C166.17,254.75 166.48,256.79 167.10,259.50 C167.72,262.21 168.45,265.54 169.60,268.25 C170.75,270.96 172.22,273.46 174.00,275.75 C175.78,278.04 177.92,280.12 180.25,282.00 C182.58,283.88 184.62,285.10 188.00,287.00 C191.38,288.90 196.33,291.61 200.50,293.40 C204.67,295.19 208.83,296.19 213.00,297.75 C217.17,299.31 221.33,300.98 225.50,302.75 C229.67,304.52 233.58,306.42 238.00,308.40 C242.42,310.38 249.00,313.30 252.00,314.60 C255.00,315.90 252.21,314.75 256.00,316.20 C259.79,317.65 268.50,320.88 274.75,323.30 C281.00,325.72 287.24,328.33 293.50,330.70 C299.76,333.07 306.05,335.48 312.30,337.50 C318.55,339.52 326.38,341.47 331.00,342.80 C335.62,344.13 338.50,345.05 340.00,345.50" stroke="#000" stroke-width="2.1"/>
</g>
</g>
<rect x="326.5" y="287" width="133" height="51.3" fill="#fff" fill-opacity="0.8"/>
<path d="M336.3,300.6H360" stroke="#bebebe" stroke-width="2"/>
<path d="M336.3,323H360" stroke="#000" stroke-width="1.8"/>
<path d="M64.05,345.5V337.5M64.05,38.5V46.5" stroke="#000" stroke-width="1.05"/>
<path d="M75.71,345.5V340.8M75.71,38.5V43.2" stroke="#000" stroke-width="0.85"/>
<path d="M87.37,345.5V340.8M87.37,38.5V43.2" stroke="#000" stroke-width="0.85"/>
<path d="M99.04,345.5V340.8M99.04,38.5V43.2" stroke="#000" stroke-width="0.85"/>
<path d="M110.70,345.5V337.5M110.70,38.5V46.5" stroke="#000" stroke-width="1.05"/>
<path d="M122.36,345.5V340.8M122.36,38.5V43.2" stroke="#000" stroke-width="0.85"/>
<path d="M134.02,345.5V340.8M134.02,38.5V43.2" stroke="#000" stroke-width="0.85"/>
<path d="M145.68,345.5V340.8M145.68,38.5V43.2" stroke="#000" stroke-width="0.85"/>
<path d="M157.34,345.5V337.5M157.34,38.5V46.5" stroke="#000" stroke-width="1.05"/>
<path d="M169.01,345.5V340.8M169.01,38.5V43.2" stroke="#000" stroke-width="0.85"/>
<path d="M180.67,345.5V340.8M180.67,38.5V43.2" stroke="#000" stroke-width="0.85"/>
<path d="M192.33,345.5V340.8M192.33,38.5V43.2" stroke="#000" stroke-width="0.85"/>
<path d="M203.99,345.5V337.5M203.99,38.5V46.5" stroke="#000" stroke-width="1.05"/>
<path d="M215.65,345.5V340.8M215.65,38.5V43.2" stroke="#000" stroke-width="0.85"/>
<path d="M227.31,345.5V340.8M227.31,38.5V43.2" stroke="#000" stroke-width="0.85"/>
<path d="M238.98,345.5V340.8M238.98,38.5V43.2" stroke="#000" stroke-width="0.85"/>
<path d="M250.64,345.5V337.5M250.64,38.5V46.5" stroke="#000" stroke-width="1.05"/>
<path d="M262.30,345.5V340.8M262.30,38.5V43.2" stroke="#000" stroke-width="0.85"/>
<path d="M273.96,345.5V340.8M273.96,38.5V43.2" stroke="#000" stroke-width="0.85"/>
<path d="M285.62,345.5V340.8M285.62,38.5V43.2" stroke="#000" stroke-width="0.85"/>
<path d="M297.29,345.5V337.5M297.29,38.5V46.5" stroke="#000" stroke-width="1.05"/>
<path d="M308.95,345.5V340.8M308.95,38.5V43.2" stroke="#000" stroke-width="0.85"/>
<path d="M320.61,345.5V340.8M320.61,38.5V43.2" stroke="#000" stroke-width="0.85"/>
<path d="M332.27,345.5V340.8M332.27,38.5V43.2" stroke="#000" stroke-width="0.85"/>
<path d="M343.93,345.5V337.5M343.93,38.5V46.5" stroke="#000" stroke-width="1.05"/>
<path d="M355.59,345.5V340.8M355.59,38.5V43.2" stroke="#000" stroke-width="0.85"/>
<path d="M367.26,345.5V340.8M367.26,38.5V43.2" stroke="#000" stroke-width="0.85"/>
<path d="M378.92,345.5V340.8M378.92,38.5V43.2" stroke="#000" stroke-width="0.85"/>
<path d="M390.58,345.5V337.5M390.58,38.5V46.5" stroke="#000" stroke-width="1.05"/>
<path d="M402.24,345.5V340.8M402.24,38.5V43.2" stroke="#000" stroke-width="0.85"/>
<path d="M413.90,345.5V340.8M413.90,38.5V43.2" stroke="#000" stroke-width="0.85"/>
<path d="M425.56,345.5V340.8M425.56,38.5V43.2" stroke="#000" stroke-width="0.85"/>
<path d="M437.23,345.5V337.5M437.23,38.5V46.5" stroke="#000" stroke-width="1.05"/>
<path d="M448.89,345.5V340.8M448.89,38.5V43.2" stroke="#000" stroke-width="0.85"/>
<path d="M460.55,345.5V340.8M460.55,38.5V43.2" stroke="#000" stroke-width="0.85"/>
<path d="M64.05,38.50H72.55M460.55,38.50H452.05" stroke="#000" stroke-width="1.05"/>
<path d="M64.05,50.05H68.75M460.55,50.05H455.85" stroke="#000" stroke-width="0.85"/>
<path d="M64.05,61.60H68.75M460.55,61.60H455.85" stroke="#000" stroke-width="0.85"/>
<path d="M64.05,68.36H68.75M460.55,68.36H455.85" stroke="#000" stroke-width="0.85"/>
<path d="M64.05,73.16H68.75M460.55,73.16H455.85" stroke="#000" stroke-width="0.85"/>
<path d="M64.05,76.88H72.55M460.55,76.88H452.05" stroke="#000" stroke-width="1.05"/>
<path d="M64.05,88.43H68.75M460.55,88.43H455.85" stroke="#000" stroke-width="0.85"/>
<path d="M64.05,99.98H68.75M460.55,99.98H455.85" stroke="#000" stroke-width="0.85"/>
<path d="M64.05,106.74H68.75M460.55,106.74H455.85" stroke="#000" stroke-width="0.85"/>
<path d="M64.05,111.53H68.75M460.55,111.53H455.85" stroke="#000" stroke-width="0.85"/>
<path d="M64.05,115.25H72.55M460.55,115.25H452.05" stroke="#000" stroke-width="1.05"/>
<path d="M64.05,126.80H68.75M460.55,126.80H455.85" stroke="#000" stroke-width="0.85"/>
<path d="M64.05,138.35H68.75M460.55,138.35H455.85" stroke="#000" stroke-width="0.85"/>
<path d="M64.05,145.11H68.75M460.55,145.11H455.85" stroke="#000" stroke-width="0.85"/>
<path d="M64.05,149.91H68.75M460.55,149.91H455.85" stroke="#000" stroke-width="0.85"/>
<path d="M64.05,153.62H72.55M460.55,153.62H452.05" stroke="#000" stroke-width="1.05"/>
<path d="M64.05,165.18H68.75M460.55,165.18H455.85" stroke="#000" stroke-width="0.85"/>
<path d="M64.05,176.73H68.75M460.55,176.73H455.85" stroke="#000" stroke-width="0.85"/>
<path d="M64.05,183.49H68.75M460.55,183.49H455.85" stroke="#000" stroke-width="0.85"/>
<path d="M64.05,188.28H68.75M460.55,188.28H455.85" stroke="#000" stroke-width="0.85"/>
<path d="M64.05,192.00H72.55M460.55,192.00H452.05" stroke="#000" stroke-width="1.05"/>
<path d="M64.05,203.55H68.75M460.55,203.55H455.85" stroke="#000" stroke-width="0.85"/>
<path d="M64.05,215.10H68.75M460.55,215.10H455.85" stroke="#000" stroke-width="0.85"/>
<path d="M64.05,221.86H68.75M460.55,221.86H455.85" stroke="#000" stroke-width="0.85"/>
<path d="M64.05,226.66H68.75M460.55,226.66H455.85" stroke="#000" stroke-width="0.85"/>
<path d="M64.05,230.38H72.55M460.55,230.38H452.05" stroke="#000" stroke-width="1.05"/>
<path d="M64.05,241.93H68.75M460.55,241.93H455.85" stroke="#000" stroke-width="0.85"/>
<path d="M64.05,253.48H68.75M460.55,253.48H455.85" stroke="#000" stroke-width="0.85"/>
<path d="M64.05,260.24H68.75M460.55,260.24H455.85" stroke="#000" stroke-width="0.85"/>
<path d="M64.05,265.03H68.75M460.55,265.03H455.85" stroke="#000" stroke-width="0.85"/>
<path d="M64.05,268.75H72.55M460.55,268.75H452.05" stroke="#000" stroke-width="1.05"/>
<path d="M64.05,280.30H68.75M460.55,280.30H455.85" stroke="#000" stroke-width="0.85"/>
<path d="M64.05,291.85H68.75M460.55,291.85H455.85" stroke="#000" stroke-width="0.85"/>
<path d="M64.05,298.61H68.75M460.55,298.61H455.85" stroke="#000" stroke-width="0.85"/>
<path d="M64.05,303.41H68.75M460.55,303.41H455.85" stroke="#000" stroke-width="0.85"/>
<path d="M64.05,307.12H72.55M460.55,307.12H452.05" stroke="#000" stroke-width="1.05"/>
<path d="M64.05,318.68H68.75M460.55,318.68H455.85" stroke="#000" stroke-width="0.85"/>
<path d="M64.05,330.23H68.75M460.55,330.23H455.85" stroke="#000" stroke-width="0.85"/>
<path d="M64.05,336.99H68.75M460.55,336.99H455.85" stroke="#000" stroke-width="0.85"/>
<path d="M64.05,341.78H68.75M460.55,341.78H455.85" stroke="#000" stroke-width="0.85"/>
<path d="M64.05,345.50H72.55M460.55,345.50H452.05" stroke="#000" stroke-width="1.05"/>
<rect x="64.05" y="38.5" width="396.5" height="307.0" fill="none" stroke="#000" stroke-width="1.1"/>
<text x="65.05" y="360.6" font-family="Liberation Serif, serif" font-size="17.6" text-anchor="middle" textLength="29.0" lengthAdjust="spacingAndGlyphs">200</text>
<text x="111.70" y="360.6" font-family="Liberation Serif, serif" font-size="17.6" text-anchor="middle" textLength="29.0" lengthAdjust="spacingAndGlyphs">400</text>
<text x="158.34" y="360.6" font-family="Liberation Serif, serif" font-size="17.6" text-anchor="middle" textLength="29.0" lengthAdjust="spacingAndGlyphs">600</text>
<text x="204.99" y="360.6" font-family="Liberation Serif, serif" font-size="17.6" text-anchor="middle" textLength="29.0" lengthAdjust="spacingAndGlyphs">800</text>
<text x="251.74" y="360.6" font-family="Liberation Serif, serif" font-size="17.6" text-anchor="middle" textLength="39.2" lengthAdjust="spacingAndGlyphs">1000</text>
<text x="298.39" y="360.6" font-family="Liberation Serif, serif" font-size="17.6" text-anchor="middle" textLength="39.2" lengthAdjust="spacingAndGlyphs">1200</text>
<text x="345.03" y="360.6" font-family="Liberation Serif, serif" font-size="17.6" text-anchor="middle" textLength="39.2" lengthAdjust="spacingAndGlyphs">1400</text>
<text x="391.68" y="360.6" font-family="Liberation Serif, serif" font-size="17.6" text-anchor="middle" textLength="39.2" lengthAdjust="spacingAndGlyphs">1600</text>
<text x="438.33" y="360.6" font-family="Liberation Serif, serif" font-size="17.6" text-anchor="middle" textLength="39.2" lengthAdjust="spacingAndGlyphs">1800</text>
<text x="26.5" y="43.10" font-family="Liberation Serif, serif" font-size="17.2" textLength="19.5" lengthAdjust="spacingAndGlyphs">10</text>
<text x="46" y="35.50" font-family="Liberation Serif, serif" font-size="12.9" textLength="10.2" lengthAdjust="spacingAndGlyphs">-6</text>
<text x="26.5" y="81.47" font-family="Liberation Serif, serif" font-size="17.2" textLength="19.5" lengthAdjust="spacingAndGlyphs">10</text>
<text x="46" y="73.88" font-family="Liberation Serif, serif" font-size="12.9" textLength="10.2" lengthAdjust="spacingAndGlyphs">-5</text>
<text x="26.5" y="119.85" font-family="Liberation Serif, serif" font-size="17.2" textLength="19.5" lengthAdjust="spacingAndGlyphs">10</text>
<text x="46" y="112.25" font-family="Liberation Serif, serif" font-size="12.9" textLength="10.2" lengthAdjust="spacingAndGlyphs">-4</text>
<text x="26.5" y="158.22" font-family="Liberation Serif, serif" font-size="17.2" textLength="19.5" lengthAdjust="spacingAndGlyphs">10</text>
<text x="46" y="150.62" font-family="Liberation Serif, serif" font-size="12.9" textLength="10.2" lengthAdjust="spacingAndGlyphs">-3</text>
<text x="26.5" y="196.60" font-family="Liberation Serif, serif" font-size="17.2" textLength="19.5" lengthAdjust="spacingAndGlyphs">10</text>
<text x="46" y="189.00" font-family="Liberation Serif, serif" font-size="12.9" textLength="10.2" lengthAdjust="spacingAndGlyphs">-2</text>
<text x="26.5" y="234.97" font-family="Liberation Serif, serif" font-size="17.2" textLength="19.5" lengthAdjust="spacingAndGlyphs">10</text>
<text x="46" y="227.38" font-family="Liberation Serif, serif" font-size="12.9" textLength="10.2" lengthAdjust="spacingAndGlyphs">-1</text>
<text x="30.4" y="273.35" font-family="Liberation Serif, serif" font-size="17.2" textLength="19.5" lengthAdjust="spacingAndGlyphs">10</text>
<text x="49.9" y="265.75" font-family="Liberation Serif, serif" font-size="12.9" textLength="6.6" lengthAdjust="spacingAndGlyphs">0</text>
<text x="30.4" y="311.73" font-family="Liberation Serif, serif" font-size="17.2" textLength="19.5" lengthAdjust="spacingAndGlyphs">10</text>
<text x="49.9" y="304.12" font-family="Liberation Serif, serif" font-size="12.9" textLength="6.6" lengthAdjust="spacingAndGlyphs">1</text>
<text x="30.4" y="350.10" font-family="Liberation Serif, serif" font-size="17.2" textLength="19.5" lengthAdjust="spacingAndGlyphs">10</text>
<text x="49.9" y="342.50" font-family="Liberation Serif, serif" font-size="12.9" textLength="6.6" lengthAdjust="spacingAndGlyphs">2</text>
<text x="262.9" y="379.1" font-family="Liberation Serif, serif" font-size="17" text-anchor="middle" textLength="126" lengthAdjust="spacingAndGlyphs">temperature (K)</text>
<text transform="translate(17.3,190.8) rotate(-90)" font-family="Liberation Serif, serif" font-size="17.8" text-anchor="middle" textLength="111" lengthAdjust="spacingAndGlyphs">pressure (bar)</text>
<text x="361.8" y="69.00" font-family="Liberation Serif, serif" font-size="15.4" fill="#8000ff" textLength="78.7" lengthAdjust="spacingAndGlyphs">2-ring PAHs</text>
<text x="361.8" y="84.40" font-family="Liberation Serif, serif" font-size="15.4" fill="#2287f5" textLength="78.7" lengthAdjust="spacingAndGlyphs">3-ring PAHs</text>
<text x="361.8" y="99.80" font-family="Liberation Serif, serif" font-size="15.4" fill="#62fac4" textLength="78.7" lengthAdjust="spacingAndGlyphs">4-ring PAHs</text>
<text x="361.8" y="115.20" font-family="Liberation Serif, serif" font-size="15.4" fill="#c3e98b" textLength="78.7" lengthAdjust="spacingAndGlyphs">5-ring PAHs</text>
<text x="361.8" y="130.60" font-family="Liberation Serif, serif" font-size="15.4" fill="#ff8545" textLength="78.7" lengthAdjust="spacingAndGlyphs">7-ring PAHs</text>
<text x="361.8" y="146.00" font-family="Liberation Serif, serif" font-size="15.4" fill="#ff0000" textLength="87.0" lengthAdjust="spacingAndGlyphs">10-ring PAHs</text>
<text x="376.3" y="305.75" font-family="Liberation Serif, serif" font-size="18" textLength="71.2" lengthAdjust="spacingAndGlyphs">haze-free</text>
<text x="376.3" y="328.25" font-family="Liberation Serif, serif" font-size="18" textLength="35" lengthAdjust="spacingAndGlyphs">hazy</text>
</svg></body></html>
